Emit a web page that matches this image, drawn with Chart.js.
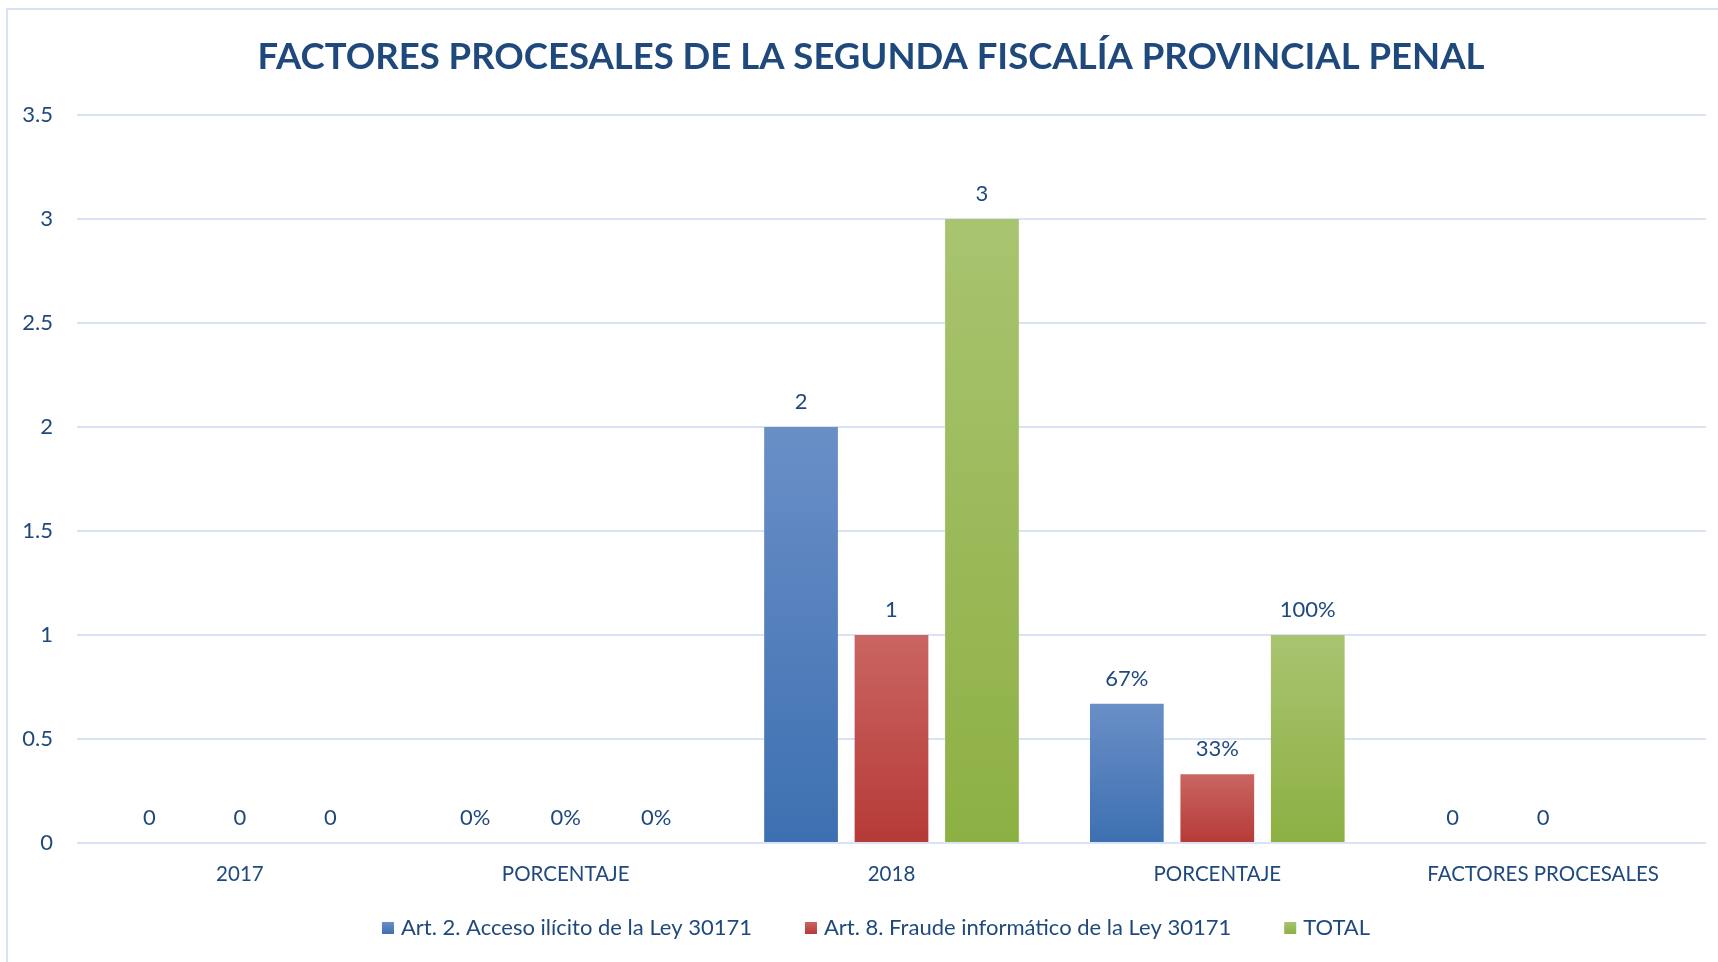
<!DOCTYPE html>
<html>
<head>
<meta charset="utf-8">
<script src="https://cdn.jsdelivr.net/npm/chart.js@4.4.1/dist/chart.umd.min.js"></script>
<style>
    html, body { margin: 0; padding: 0; background: #fff; }
    #wrap { position: relative; width: 1718px; height: 962px; overflow: hidden; }
    #frame { position: absolute; left: 6px; top: 8px; right: -4px; bottom: -4px;
             border-left: 2px solid #D9E3F3; border-top: 2px solid #D9E3F3; pointer-events: none; }
    canvas { position: absolute; left: 0; top: 0; }
</style>
</head>
<body>
<div id="wrap">
    <canvas id="chart" width="1718" height="962"></canvas>
    <div id="frame"></div>
</div>
<script>
'use strict';

const chartTitle        = 'FACTORES PROCESALES DE LA SEGUNDA FISCALÍA PROVINCIAL PENAL';
const categories        = ['2017', 'PORCENTAJE', '2018', 'PORCENTAJE', 'FACTORES PROCESALES'];
const isPercent         = [false, true, false, true, false];
const accesoIlicito     = [0, 0, 2, 0.67, 0];
const fraudeInformatico = [0, 0, 1, 0.33, 0];
const total             = [0, 0, 3, 1, null];
const seriesNames = [
    'Art. 2. Acceso ilícito de la Ley 30171',
    'Art. 8. Fraude informático de la Ley 30171',
    'TOTAL',
];
const yMax = 3.5, yStep = 0.5;

// [top, bottom] of each series' gradient
const seriesColors = [
    ['#6A8FC7', '#3D70B1'],
    ['#C96562', '#B63A37'],
    ['#A8C470', '#8DB043'],
];

const TEXT = '#1F497D';
const GRID = '#D9E3F3';
const FONT = 'Lato, "Open Sans", sans-serif';
const SIZE = 22;

// vertical gradient per bar, lighter at the top like the Excel style
function barFill(top, bottom) {
    return ctx => {
        const chart = ctx.chart;
        if (ctx.type !== 'data' || !chart.chartArea || !chart.scales.y) return bottom;
        const y = chart.scales.y;
        const yTop  = y.getPixelForValue(ctx.raw || 0);
        const yBase = y.getPixelForValue(0);
        if (yBase - yTop < 1) return bottom;
        const g = chart.ctx.createLinearGradient(0, yTop, 0, yBase);
        g.addColorStop(0, top);
        g.addColorStop(1, bottom);
        return g;
    };
}

const valueLabels = {
    id: 'valueLabels',
    afterDatasetsDraw(chart) {
        const c = chart.ctx;
        c.save();
        c.font = SIZE + 'px ' + FONT;
        c.fillStyle = TEXT;
        c.textAlign = 'center';
        c.textBaseline = 'middle';
        chart.data.datasets.forEach((ds, i) => {
            chart.getDatasetMeta(i).data.forEach((bar, j) => {
                const v = ds.data[j];
                if (v === null || v === undefined) return;
                const txt = isPercent[j] ? Math.round(v * 100) + '%' : String(v);
                c.fillText(txt, bar.x, bar.y - 25);
            });
        });
        c.restore();
    }
};

// title and legend drawn by hand so they sit where the original has them
const titleAndLegend = {
    id: 'titleAndLegend',
    afterDraw(chart) {
        const c = chart.ctx;
        c.save();
        c.fillStyle = TEXT;
        c.textBaseline = 'middle';
        c.textAlign = 'center';
        c.font = 'bold 36.5px ' + FONT;
        c.fillText(chartTitle, 871, 57);

        c.font = SIZE + 'px ' + FONT;
        c.textAlign = 'left';
        const box = 12, gap = 7, spacing = 53, cy = 928;
        const widths = chart.data.datasets.map(ds => box + gap + c.measureText(ds.label).width);
        const full = widths.reduce((a, b) => a + b, 0) + spacing * (widths.length - 1);
        let x = 876 - full / 2;
        chart.data.datasets.forEach((ds, i) => {
            const g = c.createLinearGradient(0, cy - box / 2, 0, cy + box / 2);
            g.addColorStop(0, seriesColors[i][0]);
            g.addColorStop(1, seriesColors[i][1]);
            c.fillStyle = g;
            c.fillRect(x, cy - box / 2, box, box);
            c.fillStyle = TEXT;
            c.fillText(ds.label, x + box + gap, cy);
            x += widths[i] + spacing;
        });
        c.restore();
    }
};

new Chart(document.getElementById('chart'), {
    type: 'bar',
    data: {
        labels: categories,
        datasets: seriesNames.map((name, i) => ({
            label: name,
            data: [accesoIlicito, fraudeInformatico, total][i],
            backgroundColor: barFill(seriesColors[i][0], seriesColors[i][1]),
        }))
    },
    options: {
        responsive: false,
        animation: false,
        categoryPercentage: 0.833,
        barPercentage: 0.815,
        layout: { padding: { left: 12, right: 12, top: 115, bottom: 75 } },
        plugins: {
            title: { display: false },
            legend: { display: false },
            tooltip: { enabled: false },
        },
        scales: {
            x: {
                grid: { display: false, drawTicks: false },
                border: { display: false },
                ticks: { color: TEXT, font: { family: FONT, size: 20.5 }, padding: 19 },
                afterFit: s => { s.height = 44; },
            },
            y: {
                min: 0, max: yMax,
                grid: { color: GRID, lineWidth: 2, drawTicks: false },
                border: { display: false },
                ticks: {
                    stepSize: yStep, padding: 24,
                    color: TEXT, font: { family: FONT, size: SIZE },
                    callback: v => String(v),
                },
                afterFit: s => { s.width = 65; },
            }
        }
    },
    plugins: [valueLabels, titleAndLegend]
});
</script>
</body>
</html>
